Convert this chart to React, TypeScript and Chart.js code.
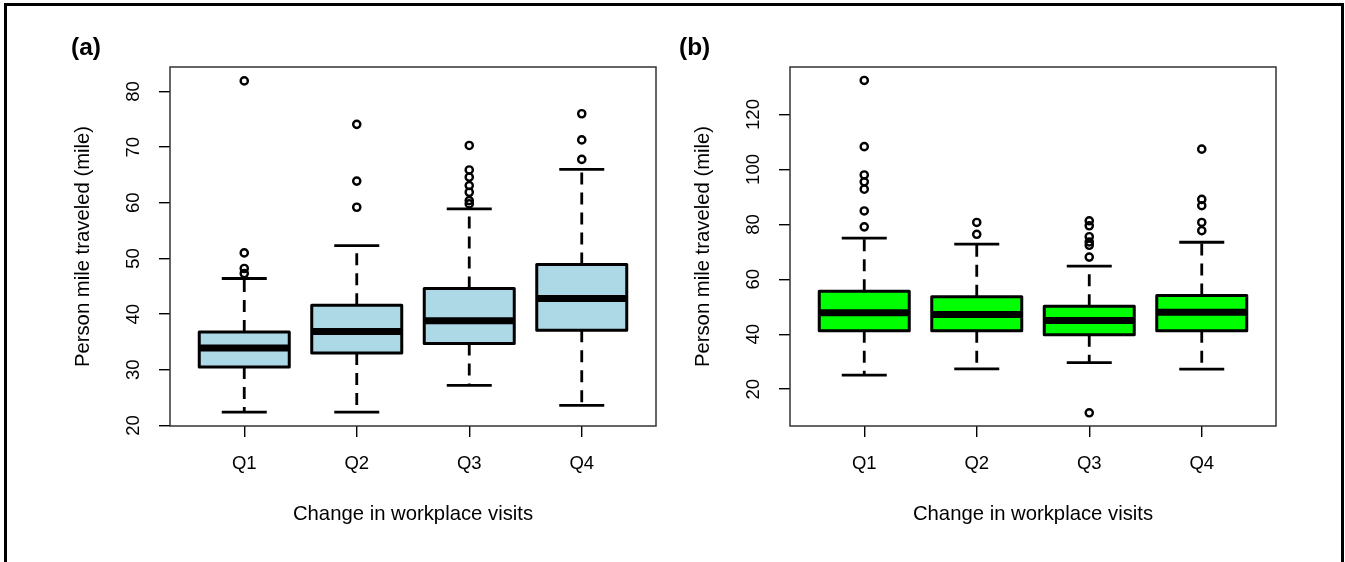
import React, { useEffect, useRef } from 'react';
import { Chart, registerables } from 'chart.js';

Chart.register(...registerables);

// ---- data ----
const categories = ['Q1', 'Q2', 'Q3', 'Q4'];
const xTickValues = [1, 2, 3, 4];

// Panel (a)
const aLow = [22.4, 22.4, 27.2, 23.6];
const aQ1 = [30.5, 33.0, 34.7, 37.1];
const aMedian = [33.9, 36.9, 38.8, 42.8];
const aQ3 = [36.8, 41.6, 44.6, 48.9];
const aHigh = [46.4, 52.3, 58.9, 66.0];
const aOutliers = [
  [81.9, 51.0, 48.2, 47.3],
  [74.1, 63.9, 59.2],
  [70.3, 65.9, 64.6, 63.1, 61.9, 60.4, 59.8],
  [76.0, 71.3, 67.8],
];
const aYTicks = [20, 30, 40, 50, 60, 70, 80];

// Panel (b)
const bLow = [25.1, 27.4, 29.7, 27.3];
const bQ1 = [41.3, 41.3, 39.8, 41.3];
const bMedian = [47.8, 47.2, 45.0, 48.0];
const bQ3 = [55.7, 53.7, 50.2, 54.1];
const bHigh = [75.0, 72.8, 64.8, 73.5];
const bOutliers = [
  [132.4, 108.3, 98.0, 95.5, 92.8, 84.9, 79.1],
  [80.7, 76.4],
  [81.3, 79.5, 75.5, 73.6, 72.4, 68.1, 11.4],
  [107.4, 89.1, 86.8, 80.7, 77.7],
];
const bYTicks = [20, 40, 60, 80, 100, 120];

const yTitle = 'Person mile traveled (mile)';
const xTitle = 'Change in workplace visits';

const FONT = '"Liberation Sans", Arial, sans-serif';
const TICK_SIZE = 18.5;
const TITLE_SIZE = 20.3;

function textWidth(text: string, font: string): number {
  const c = document.createElement('canvas').getContext('2d')!;
  c.font = font;
  return c.measureText(text).width;
}

type PanelProps = {
  low: number[];
  q1: number[];
  med: number[];
  q3: number[];
  high: number[];
  outliers: number[][];
  yTicks: number[];
  yMin: number;
  yMax: number;
  fill: string;
  left: number;
};

function Panel(p: PanelProps) {
  const ref = useRef<HTMLCanvasElement | null>(null);
  useEffect(() => {
    if (!ref.current) return;
    const points: { x: number; y: number }[] = [];
    p.outliers.forEach((arr, i) => arr.forEach((v) => points.push({ x: i + 1, y: v })));

    const widest = Math.max(...p.yTicks.map((t) => textWidth(String(t), `${TICK_SIZE}px ${FONT}`)));
    const yPad = 25 - widest / 2;

    const boxPlugin = {
      id: 'boxes',
      beforeDatasetsDraw(chart: any) {
        const ctx = chart.ctx as CanvasRenderingContext2D;
        const xs = chart.scales.x;
        const ys = chart.scales.y;
        ctx.save();
        for (let i = 0; i < categories.length; i++) {
          const cx = xs.getPixelForValue(i + 1);
          const hw = xs.getPixelForValue(i + 1.4) - cx;
          const chw = xs.getPixelForValue(i + 1.2) - cx;
          const yLo = ys.getPixelForValue(p.low[i]);
          const yQ1 = ys.getPixelForValue(p.q1[i]);
          const yMed = ys.getPixelForValue(p.med[i]);
          const yQ3 = ys.getPixelForValue(p.q3[i]);
          const yHi = ys.getPixelForValue(p.high[i]);
          ctx.strokeStyle = '#000';
          // whiskers
          ctx.lineWidth = 2.8;
          ctx.lineCap = 'butt';
          ctx.setLineDash([12, 8]);
          ctx.beginPath();
          ctx.moveTo(cx, yQ1);
          ctx.lineTo(cx, yLo);
          ctx.moveTo(cx, yQ3);
          ctx.lineTo(cx, yHi);
          ctx.stroke();
          ctx.setLineDash([]);
          // staples
          ctx.beginPath();
          ctx.moveTo(cx - chw, yLo);
          ctx.lineTo(cx + chw, yLo);
          ctx.moveTo(cx - chw, yHi);
          ctx.lineTo(cx + chw, yHi);
          ctx.stroke();
          // box
          ctx.fillStyle = p.fill;
          ctx.fillRect(cx - hw, yQ3, 2 * hw, yQ1 - yQ3);
          ctx.lineWidth = 3;
          ctx.lineJoin = 'round';
          ctx.strokeRect(cx - hw, yQ3, 2 * hw, yQ1 - yQ3);
          // median
          ctx.lineWidth = 7;
          ctx.beginPath();
          ctx.moveTo(cx - hw, yMed);
          ctx.lineTo(cx + hw, yMed);
          ctx.stroke();
        }
        ctx.restore();
      },
      afterDraw(chart: any) {
        const ctx = chart.ctx as CanvasRenderingContext2D;
        const a = chart.chartArea;
        ctx.save();
        ctx.strokeStyle = '#333';
        ctx.lineWidth = 1.5;
        ctx.strokeRect(a.left, a.top, a.right - a.left, a.bottom - a.top);
        ctx.restore();
      },
    };

    const chart = new Chart(ref.current, {
      type: 'scatter',
      data: {
        datasets: [
          {
            data: points,
            pointRadius: 3.6,
            pointHoverRadius: 3.6,
            pointBorderWidth: 2.4,
            borderColor: '#000',
            backgroundColor: 'rgba(255,255,255,0)',
            pointStyle: 'circle',
            showLine: false,
          },
        ],
      },
      options: {
        animation: false,
        responsive: false,
        events: [],
        layout: { padding: { top: 67, right: 16, bottom: 0, left: 0 } },
        plugins: { legend: { display: false }, tooltip: { enabled: false }, title: { display: false } },
        scales: {
          x: {
            type: 'linear',
            min: 0.34,
            max: 4.66,
            afterBuildTicks: (axis: any) => {
              axis.ticks = xTickValues.map((v) => ({ value: v }));
            },
            afterFit: (axis: any) => {
              axis.height = 136;
            },
            ticks: {
              callback: (v: any) => categories[Number(v) - 1],
              color: '#000',
              font: { family: FONT, size: TICK_SIZE },
              padding: 16,
              maxRotation: 0,
              minRotation: 0,
              autoSkip: false,
            },
            grid: {
              display: true,
              drawOnChartArea: false,
              drawTicks: true,
              tickLength: 11,
              color: '#000',
              lineWidth: 1.4,
            },
            border: { display: false },
            title: {
              display: true,
              text: xTitle,
              color: '#000',
              font: { family: FONT, size: TITLE_SIZE },
              padding: { top: 0, bottom: 35 },
            },
          },
          y: {
            type: 'linear',
            min: p.yMin,
            max: p.yMax,
            afterBuildTicks: (axis: any) => {
              axis.ticks = p.yTicks.map((v) => ({ value: v }));
            },
            afterFit: (axis: any) => {
              axis.width = 170;
            },
            ticks: {
              callback: (v: any) => String(v),
              color: '#000',
              font: { family: FONT, size: TICK_SIZE },
              padding: yPad,
              minRotation: 90,
              maxRotation: 90,
              crossAlign: 'center',
              autoSkip: false,
            },
            grid: {
              display: true,
              drawOnChartArea: false,
              drawTicks: true,
              tickLength: 11,
              color: '#000',
              lineWidth: 1.4,
            },
            border: { display: false },
            title: {
              display: true,
              text: yTitle,
              color: '#000',
              font: { family: FONT, size: TITLE_SIZE },
              padding: { top: 71, bottom: 0 },
            },
          },
        },
      } as any,
      plugins: [boxPlugin],
    });
    return () => chart.destroy();
  }, []);
  return (
    <canvas
      ref={ref}
      width={672}
      height={562}
      style={{ position: 'absolute', left: p.left, top: 0, width: 672, height: 562 }}
    />
  );
}

export default function App() {
  const labelStyle: React.CSSProperties = {
    position: 'absolute',
    top: 33,
    font: `bold 24.5px ${FONT}`,
    lineHeight: '28px',
    color: '#000',
  };
  return (
    <div
      style={{
        position: 'absolute',
        left: 0,
        top: 0,
        width: 1345,
        height: 562,
        overflow: 'hidden',
        background: '#fff',
      }}
    >
      <div
        style={{
          position: 'absolute',
          left: 4,
          top: 3,
          width: 1340,
          height: 700,
          border: '3px solid #000',
          boxSizing: 'border-box',
        }}
      />
      <Panel
        low={aLow}
        q1={aQ1}
        med={aMedian}
        q3={aQ3}
        high={aHigh}
        outliers={aOutliers}
        yTicks={aYTicks}
        yMin={19.9}
        yMax={84.4}
        fill="#ADD8E6"
        left={0}
      />
      <Panel
        low={bLow}
        q1={bQ1}
        med={bMedian}
        q3={bQ3}
        high={bHigh}
        outliers={bOutliers}
        yTicks={bYTicks}
        yMin={6.6}
        yMax={137.3}
        fill="#00FF00"
        left={620}
      />
      <div style={{ ...labelStyle, left: 71 }}>(a)</div>
      <div style={{ ...labelStyle, left: 679 }}>(b)</div>
    </div>
  );
}
